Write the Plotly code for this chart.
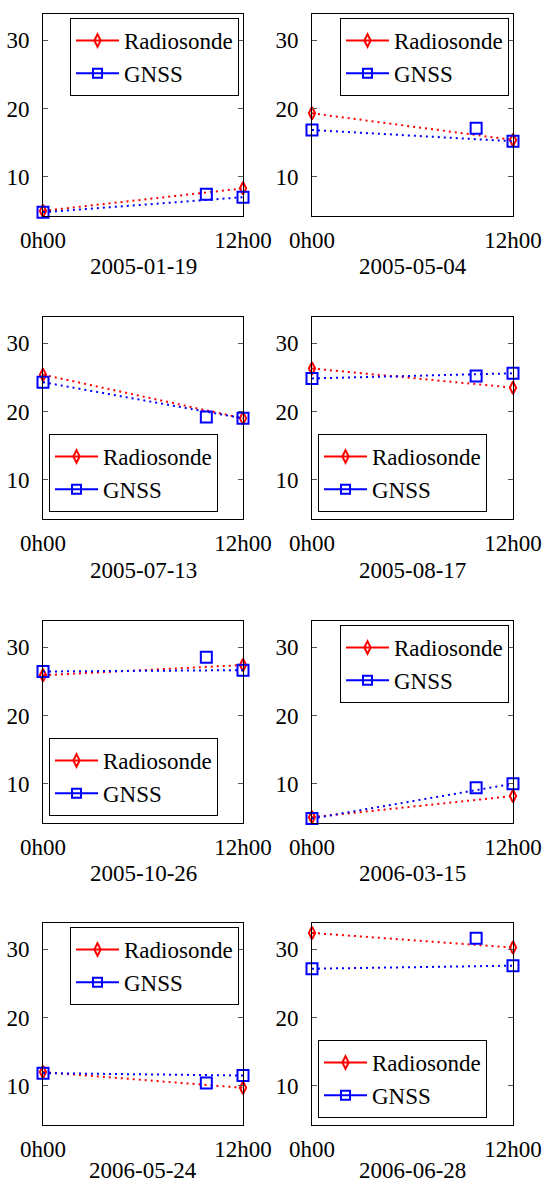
import plotly.graph_objects as go

# ---------------- data ----------------
dates = ["2005-01-19", "2005-05-04", "2005-07-13", "2005-08-17",
         "2005-10-26", "2006-03-15", "2006-05-24", "2006-06-28"]
hours = [0, 12]
mid_hour = 9.8
radiosonde = [[5.0, 8.3], [19.3, 15.4], [25.4, 19.0], [26.3, 23.5],
              [25.9, 27.4], [5.1, 8.2], [12.0, 9.7], [32.4, 30.25]]
gnss = [[4.8, 7.0], [16.85, 15.2], [24.3, 19.0], [24.85, 25.6],
        [26.45, 26.65], [4.9, 10.0], [11.85, 11.5], [27.15, 27.6]]
gnss_mid = [7.45, 17.1, 19.2, 25.2, 28.55, 9.4, 10.4, 31.6]
legend_corner = ["top-right", "top-right", "bottom-left", "bottom-left",
                 "bottom-left", "top-right", "top-right", "bottom-left"]
y_ticks = [10, 20, 30]
x_ticks = [0, 12]
x_tick_labels = ["0h00", "12h00"]

# ---------------- layout geometry (pixels, page coordinates) ----------------
W, H = 544, 1186
col_px = [(43, 243), (312, 513)]
row_px = [(14, 216), (317, 519), (621, 823), (923, 1125)]
FONT = "Liberation Serif"
FS = 23
RED = "#ff0000"
BLUE = "#0000ff"
DOT = "2px,4px"

def px_x(p):
    return p / W

def px_y(p):
    return 1 - p / H

fig = go.Figure()
layout = dict(
    template="none",
    width=W, height=H,
    margin=dict(l=0, r=0, t=0, b=0, autoexpand=False),
    paper_bgcolor="white", plot_bgcolor="white",
    font=dict(family=FONT, size=FS, color="black"),
    showlegend=True,
)
annotations = []

for i, d in enumerate(dates):
    r, c = divmod(i, 2)
    n = i + 1
    xa = "x" if n == 1 else f"x{n}"
    ya = "y" if n == 1 else f"y{n}"
    lg = "legend" if n == 1 else f"legend{n}"
    x0, x1 = col_px[c]
    y0, y1 = row_px[r]

    layout[f"xaxis{'' if n == 1 else n}"] = dict(
        domain=[px_x(x0), px_x(x1)], anchor=ya, range=[0, 12],
        tickvals=x_ticks, ticktext=x_tick_labels,
        ticks="inside", ticklen=5, tickcolor="#555", tickwidth=1,
        showline=True, linecolor="black", linewidth=1, mirror="ticks",
        showgrid=False, zeroline=False, ticklabelstandoff=3, automargin=False,
        ticklabeloverflow="allow",
        tickfont=dict(family=FONT, size=FS, color="black"),
    )
    layout[f"yaxis{'' if n == 1 else n}"] = dict(
        domain=[px_y(y1), px_y(y0)], anchor=xa, range=[4.25, 33.85],
        tickvals=y_ticks,
        ticks="inside", ticklen=5, tickcolor="#555", tickwidth=1,
        showline=True, linecolor="black", linewidth=1, mirror="ticks",
        showgrid=False, zeroline=False, ticklabelstandoff=8, automargin=False,
        ticklabeloverflow="allow",
        tickfont=dict(family=FONT, size=FS, color="black"),
    )

    fig.add_trace(go.Scatter(
        x=hours, y=radiosonde[i], mode="lines+markers", xaxis=xa, yaxis=ya,
        line=dict(color=RED, width=2, dash=DOT),
        marker=dict(symbol="diamond-tall-open", size=9, color=RED, line=dict(width=2, color=RED)),
        showlegend=False, cliponaxis=False,
    ))
    fig.add_trace(go.Scatter(
        x=hours, y=gnss[i], mode="lines+markers", xaxis=xa, yaxis=ya,
        line=dict(color=BLUE, width=2, dash=DOT),
        marker=dict(symbol="square-open", size=11, color=BLUE, line=dict(width=2, color=BLUE)),
        showlegend=False, cliponaxis=False,
    ))
    fig.add_trace(go.Scatter(
        x=[mid_hour], y=[gnss_mid[i]], mode="markers", xaxis=xa, yaxis=ya,
        marker=dict(symbol="square-open", size=11, color=BLUE, line=dict(width=2, color=BLUE)),
        showlegend=False, cliponaxis=False,
    ))
    fig.add_trace(go.Scatter(
        x=[None], y=[None], mode="lines+markers", xaxis=xa, yaxis=ya,
        name="Radiosonde", legend=lg,
        line=dict(color=RED, width=2),
        marker=dict(symbol="diamond-tall-open", size=9, color=RED, line=dict(width=2, color=RED)),
    ))
    fig.add_trace(go.Scatter(
        x=[None], y=[None], mode="lines+markers", xaxis=xa, yaxis=ya,
        name="GNSS", legend=lg,
        line=dict(color=BLUE, width=2),
        marker=dict(symbol="square-open", size=9, color=BLUE, line=dict(width=2, color=BLUE)),
    ))

    if legend_corner[i] == "top-right":
        lx, ly, xan, yan = px_x(x1 - 4), px_y(y0 + 4), "right", "top"
    else:
        lx, ly, xan, yan = px_x(x0 + 6), px_y(y1 - 7), "left", "bottom"
    layout[lg] = dict(
        x=lx, y=ly, xanchor=xan, yanchor=yan, xref="paper", yref="paper",
        bgcolor="white", bordercolor="black", borderwidth=1,
        font=dict(family=FONT, size=FS, color="black"),
        itemwidth=43, tracegroupgap=0,
    )

    label_y = min(y1 + 51, H - 16)
    annotations.append(dict(
        x=px_x((x0 + x1) / 2), y=px_y(label_y), xref="paper", yref="paper",
        text=d, showarrow=False, xanchor="center", yanchor="middle",
        font=dict(family=FONT, size=FS, color="black"),
    ))

layout["annotations"] = annotations
fig.update_layout(**layout)
fig.write_html(
    "out.html",
    config={"displayModeBar": False},
    post_script="document.body.style.margin='0';document.body.style.overflow='hidden';",
)
